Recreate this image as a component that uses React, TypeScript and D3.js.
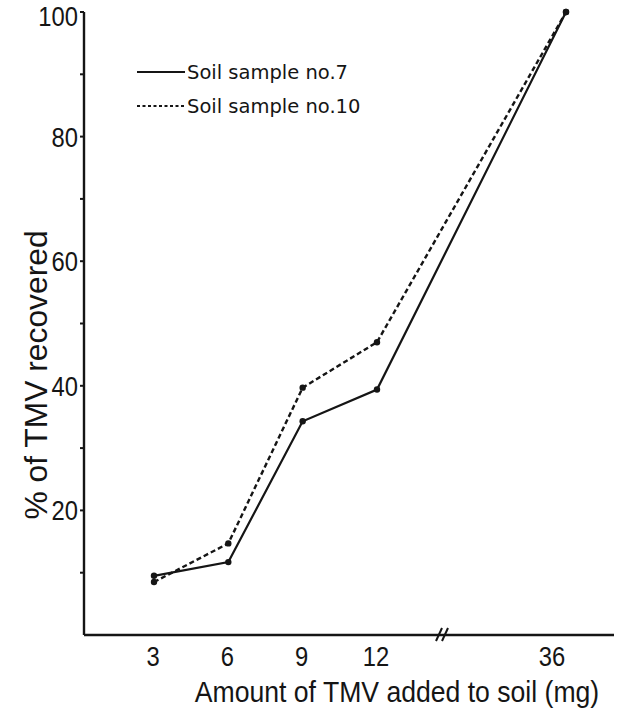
import React from "react";
import * as d3 from "d3";

const xTicks = [3, 6, 9, 12, 36];
const amounts = [3, 6, 9, 12, 36];
const sample7 = [9.5, 11.7, 34.3, 39.4, 100];
const sample10 = [8.5, 14.7, 39.7, 47, 100];
const yMajor = [20, 40, 60, 80, 100];
const yMinor = [10, 30, 50, 70, 90];
const seriesNames = ["Soil sample no.7", "Soil sample no.10"];
const xTitle = "Amount of TMV added to soil (mg)";
const yTitle = "% of TMV recovered";

const W = 627;
const H = 718;
const axisX = 84;
const axisRight = 614;

const x = d3.scaleLinear().domain([3, 12, 36]).range([154, 377, 566]);
const y = d3.scaleLinear().domain([0, 100]).range([635, 12]);

const font = "'Liberation Sans', Arial, sans-serif";
const legendFont = "'DejaVu Sans', sans-serif";
const ink = "#151515";

function Narrow({ x: tx, y: ty, anchor, size, children }: any) {
  return (
    <text
      transform={`translate(${tx},${ty}) scale(0.88,1)`}
      textAnchor={anchor}
      fontFamily={font}
      fontSize={size}
      fill={ink}
    >
      {children}
    </text>
  );
}

export default function App() {
  const line = d3
    .line<number>()
    .x((_, i) => x(amounts[i]))
    .y((d) => y(d));

  const breakX = 440;

  return (
    <svg width={W} height={H} style={{ position: "absolute", left: 0, top: 0, background: "#fff" }}>
      <rect width={W} height={H} fill="#fff" />
      {/* axes */}
      <line x1={axisX} y1={y(100)} x2={axisX} y2={y(0)} stroke={ink} strokeWidth={2.4} />
      <line x1={axisX} y1={y(0)} x2={axisRight} y2={y(0)} stroke={ink} strokeWidth={2.4} />
      {/* axis break */}
      {[0, 6].map((o) => (
        <line
          key={o}
          x1={breakX - 4 + o}
          y1={y(0) + 6}
          x2={breakX + 2 + o}
          y2={y(0) - 7}
          stroke={ink}
          strokeWidth={2}
        />
      ))}
      {/* y ticks */}
      {yMajor.concat(yMinor).map((v) => (
        <line key={"t" + v} x1={axisX - 4} y1={y(v)} x2={axisX} y2={y(v)} stroke={ink} strokeWidth={2} />
      ))}
      {yMajor.map((v) => (
        <Narrow key={"l" + v} x={78} y={y(v) + (v === 100 ? 13.5 : 10)} anchor="end" size={27}>
          {v}
        </Narrow>
      ))}
      {/* x tick labels */}
      {xTicks.map((v, i) => (
        <Narrow key={"x" + v} x={x(v) + (i === xTicks.length - 1 ? -14 : -1)} y={666} anchor="middle" size={27}>
          {v}
        </Narrow>
      ))}
      {/* axis titles */}
      <text
        transform="translate(397,702) scale(0.917,1)"
        textAnchor="middle"
        fontFamily={font}
        fontSize={29}
        fill={ink}
      >
        {xTitle}
      </text>
      <text
        transform="translate(47,375) rotate(-90)"
        textAnchor="middle"
        fontFamily={font}
        fontSize={31.8}
        fill={ink}
      >
        {yTitle}
      </text>
      {/* series */}
      <path d={line(sample10) || ""} fill="none" stroke={ink} strokeWidth={2.4} strokeDasharray="5,3" />
      <path d={line(sample7) || ""} fill="none" stroke={ink} strokeWidth={2.2} />
      {sample7.map((v, i) => (
        <circle key={"a" + i} cx={x(amounts[i])} cy={y(v)} r={3.2} fill={ink} />
      ))}
      {sample10.map((v, i) => (
        <circle key={"b" + i} cx={x(amounts[i])} cy={y(v)} r={3.2} fill={ink} />
      ))}
      {/* legend */}
      <line x1={137} y1={72} x2={185} y2={72} stroke={ink} strokeWidth={2.2} />
      <text x={187} y={72} dy="0.36em" fontFamily={legendFont} fontSize={19.5} fill={ink}>
        {seriesNames[0]}
      </text>
      <line x1={137} y1={106} x2={185} y2={106} stroke={ink} strokeWidth={2} strokeDasharray="3,2.5" />
      <text x={187} y={106} dy="0.36em" fontFamily={legendFont} fontSize={19.5} fill={ink}>
        {seriesNames[1]}
      </text>
    </svg>
  );
}
